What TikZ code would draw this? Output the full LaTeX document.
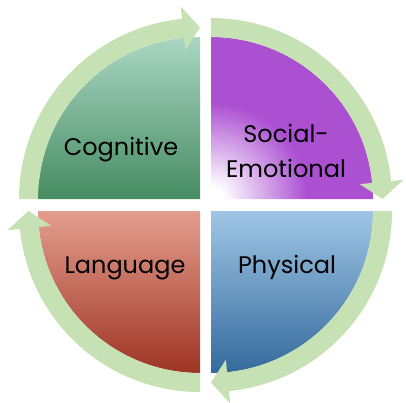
\documentclass[tikz,border=0pt]{standalone}
\usepackage{fontspec}
\setmainfont{Poppins}
\usepackage{tikz}
\usetikzlibrary{calc,positioning}

\definecolor{ringgreen}{RGB}{198,225,180}
\definecolor{cogtop}{RGB}{170,214,196}
\definecolor{cogbot}{RGB}{70,140,98}
\definecolor{socpurple}{RGB}{172,80,210}
\definecolor{phytop}{RGB}{160,198,229}
\definecolor{phybot}{RGB}{52,106,156}
\definecolor{lantop}{RGB}{228,158,142}
\definecolor{lanmid}{RGB}{212,90,66}
\definecolor{lanbot}{RGB}{158,52,36}

\pgfdeclareradialshading[socpurple]{socglow}{\pgfpoint{0bp}{0bp}}{%
    color(0bp)=(white); color(1.5bp)=(white); color(12bp)=(socpurple); color(50bp)=(socpurple)}

\begin{document}
\begin{tikzpicture}[
    x=1pt, y=1pt,
    label/.style={font=\fontsize{24}{35}\selectfont, text=black, align=center, inner sep=0pt},
    ringarrow/.style={fill=ringgreen}
]
\useasboundingbox (0,0) rectangle (406,402);

% corners of the four quarters
\coordinate (cog) at (200,203);
\coordinate (soc) at (211,203);
\coordinate (phy) at (211,191);
\coordinate (lan) at (200,191);

% quarters
\shade[top color=cogtop, bottom color=cogbot]
    (cog) -- ($(cog)+(180:162pt)$) arc[start angle=180, end angle=90, radius=162pt] -- cycle;
\begin{scope}
    \clip (soc) -- ($(soc)+(90:162pt)$) arc[start angle=90, end angle=0, radius=162pt] -- cycle;
    \shade[shading=socglow] (soc) circle (200pt);
\end{scope}
\shade[top color=phytop, bottom color=phybot]
    (phy) -- ($(phy)+(0:162pt)$) arc[start angle=0, end angle=-90, radius=162pt] -- cycle;
\shade[top color=lantop, middle color=lanmid, bottom color=lanbot]
    (lan) -- ($(lan)+(-90:162pt)$) arc[start angle=-90, end angle=-180, radius=162pt] -- cycle;

% arrows round the circle
\fill[ringarrow] ($(cog)+(180:162pt)$) arc[start angle=180, end angle=95.7, radius=162pt]
    -- ($(cog)+(95.7:149.5pt)$) -- ($(cog)+(90:171.5pt)$) -- ($(cog)+(95.7:193.5pt)$)
    -- ($(cog)+(95.7:181pt)$) arc[start angle=95.7, end angle=180, radius=181pt] -- cycle;
\fill[ringarrow] ($(soc)+(90:162pt)$) arc[start angle=90, end angle=5.7, radius=162pt]
    -- ($(soc)+(5.7:149.5pt)$) -- ($(soc)+(0:171.5pt)$) -- ($(soc)+(5.7:193.5pt)$)
    -- ($(soc)+(5.7:181pt)$) arc[start angle=5.7, end angle=90, radius=181pt] -- cycle;
\fill[ringarrow] ($(phy)+(0:162pt)$) arc[start angle=0, end angle=-84.3, radius=162pt]
    -- ($(phy)+(-84.3:149.5pt)$) -- ($(phy)+(-90:171.5pt)$) -- ($(phy)+(-84.3:193.5pt)$)
    -- ($(phy)+(-84.3:181pt)$) arc[start angle=-84.3, end angle=0, radius=181pt] -- cycle;
\fill[ringarrow] ($(lan)+(-90:162pt)$) arc[start angle=-90, end angle=-174.3, radius=162pt]
    -- ($(lan)+(-174.3:149.5pt)$) -- ($(lan)+(-180:171.5pt)$) -- ($(lan)+(-174.3:193.5pt)$)
    -- ($(lan)+(-174.3:181pt)$) arc[start angle=-174.3, end angle=-90, radius=181pt] -- cycle;

% labels
\node[label, anchor=base] (cogtxt) at (121,247) {Cognitive};
\node[label] (soctxt) at (286,251) {Social-\\Emotional};
\node[label, anchor=base] (phytxt) at (287,129) {Physical};
\node[label, anchor=base] (lantxt) at (125,129) {Language};
\end{tikzpicture}
\end{document}
